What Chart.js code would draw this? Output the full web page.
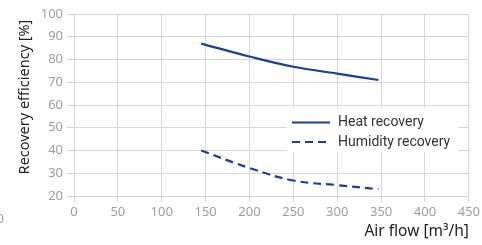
<!DOCTYPE html>
<html>
<head>
<meta charset="utf-8">
<script src="https://cdn.jsdelivr.net/npm/chart.js@4/dist/chart.umd.min.js"></script>
<style>
  html, body { margin: 0; padding: 0; background: #fff; }
  #wrap { position: relative; width: 482px; height: 245px; }
</style>
</head>
<body>
<div id="wrap"><canvas id="c" width="482" height="245"></canvas></div>
<script>
// ---- Data ----
const airFlow = [145, 200, 250, 300, 347];
const heatRecovery = [87, 81.3, 76.8, 73.8, 71];
const humidityRecovery = [40, 32.3, 26.8, 24.8, 23];
const xTicks = [0, 50, 100, 150, 200, 250, 300, 350, 400, 450];
const yTicks = [20, 30, 40, 50, 60, 70, 80, 90, 100];
const seriesNames = ['Heat recovery', 'Humidity recovery'];
const xTitle = 'Air flow [m³/h]';
const yTitle = 'Recovery efficiency [%]';

const BLUE = '#1b3f97';
const GRID = '#d6d6d6';
const TICK = '#9e9e9e';

const extrasPlugin = {
  id: 'extras',
  afterDraw(chart) {
    const ctx = chart.ctx;
    ctx.save();
    // y-axis title
    ctx.font = '14.5px "Noto Sans"';
    ctx.fillStyle = '#222';
    ctx.textAlign = 'center';
    ctx.textBaseline = 'middle';
    ctx.translate(25, 97);
    ctx.rotate(-Math.PI / 2);
    ctx.fillText(yTitle, 0, 0);
    ctx.restore();

    // stray cropped label at left edge
    ctx.save();
    ctx.font = '13px "Noto Sans"';
    ctx.fillStyle = TICK;
    ctx.textAlign = 'right';
    ctx.textBaseline = 'middle';
    ctx.fillText('0', 4, 219);
    ctx.restore();

    // legend box
    ctx.save();
    const bx = 287, by = 108, bw = 171, bh = 44;
    ctx.fillStyle = '#fff';
    ctx.fillRect(bx, by, bw, bh);
    ctx.font = '14px Roboto';
    ctx.textAlign = 'left';
    ctx.textBaseline = 'middle';
    const rows = [122.5, 142];
    chart.data.datasets.forEach((ds, i) => {
      const y = rows[i];
      ctx.strokeStyle = ds.borderColor;
      ctx.lineWidth = ds.borderWidth;
      ctx.setLineDash(ds.borderDash || []);
      ctx.beginPath();
      ctx.moveTo(292, y);
      ctx.lineTo(330, y);
      ctx.stroke();
      ctx.setLineDash([]);
      ctx.fillStyle = '#333';
      ctx.fillText(ds.label, 338, y);
    });
    ctx.restore();
  }
};

new Chart(document.getElementById('c'), {
  type: 'line',
  data: {
    datasets: [
      {
        label: seriesNames[0],
        data: airFlow.map((x, i) => ({ x, y: heatRecovery[i] })),
        borderColor: BLUE,
        borderWidth: 2.2,
        pointRadius: 0,
        tension: 0.4,
        fill: false
      },
      {
        label: seriesNames[1],
        data: airFlow.map((x, i) => ({ x, y: humidityRecovery[i] })),
        borderColor: BLUE,
        borderWidth: 2.2,
        borderDash: [8, 5],
        pointRadius: 0,
        tension: 0.4,
        fill: false
      }
    ]
  },
  options: {
    responsive: false,
    animation: false,
    devicePixelRatio: 1,
    layout: { padding: { left: 0, right: 13, top: 14, bottom: 0 } },
    plugins: { legend: { display: false }, tooltip: { enabled: false } },
    scales: {
      x: {
        type: 'linear',
        min: 0, max: 450,
        afterBuildTicks: (s) => { s.ticks = xTicks.map(v => ({ value: v })); },
        afterFit: (s) => { s.height = 49; },
        grid: { color: GRID, lineWidth: 1, tickLength: 6, drawTicks: true },
        border: { display: false },
        ticks: { color: TICK, font: { family: 'Noto Sans', size: 13 }, padding: 2, maxRotation: 0 },
        title: {
          display: true, text: xTitle, align: 'end',
          color: '#222', font: { family: 'Noto Sans', size: 15.5 },
          padding: { top: 0, bottom: 4 }
        }
      },
      y: {
        type: 'linear',
        min: 20, max: 100,
        afterBuildTicks: (s) => { s.ticks = yTicks.map(v => ({ value: v })); },
        afterFit: (s) => { s.width = 74; },
        grid: { color: GRID, lineWidth: 1, tickLength: 7, drawTicks: true },
        border: { display: false },
        ticks: { color: TICK, font: { family: 'Noto Sans', size: 13 }, padding: 4 }
      }
    }
  },
  plugins: [extrasPlugin]
});
</script>
</body>
</html>
